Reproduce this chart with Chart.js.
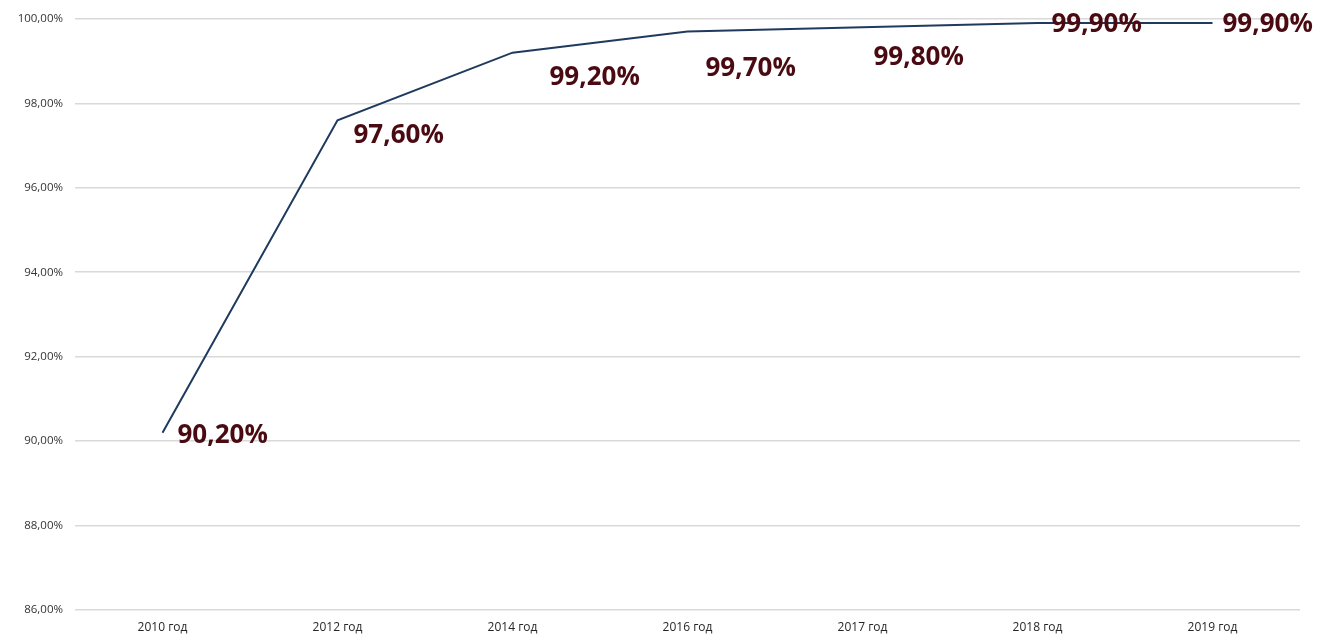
<!DOCTYPE html>
<html>
<head>
<meta charset="utf-8">
<script src="https://cdn.jsdelivr.net/npm/chart.js@4"></script>
<style>
  html, body { margin: 0; padding: 0; background: #ffffff; }
  #wrap { width: 1318px; height: 636px; position: relative; }
</style>
</head>
<body>
<div id="wrap"><canvas id="c" width="1318" height="636"></canvas></div>
<script>
// ---- data ----
const categories = ['2010 год', '2012 год', '2014 год', '2016 год', '2017 год', '2018 год', '2019 год'];
const values = [90.2, 97.6, 99.2, 99.7, 99.8, 99.9, 99.9];
const dataLabels = ['90,20%', '97,60%', '99,20%', '99,70%', '99,80%', '99,90%', '99,90%'];
const yMin = 86, yMax = 100, yStep = 2;

// label placement offsets relative to each point (style)
const labelOffsets = [[15, 3], [16, 15], [37, 25], [18, 37], [11, 30], [14, 1], [10, 1]];

const labelPlugin = {
  id: 'valueLabels',
  afterDatasetsDraw(chart) {
    const ctx = chart.ctx;
    const meta = chart.getDatasetMeta(0);
    ctx.save();
    ctx.font = 'bold 26px "Open Sans", "Noto Sans", sans-serif';
    ctx.fillStyle = '#4a0a12';
    ctx.textAlign = 'left';
    ctx.textBaseline = 'middle';
    meta.data.forEach((pt, i) => {
      const off = labelOffsets[i];
      ctx.fillText(dataLabels[i], pt.x + off[0], pt.y + off[1]);
    });
    ctx.restore();
  }
};

new Chart(document.getElementById('c'), {
  type: 'line',
  data: {
    labels: categories,
    datasets: [{
      data: values,
      borderColor: '#1f3a5f',
      borderWidth: 2,
      pointRadius: 0,
      tension: 0,
      fill: false
    }]
  },
  options: {
    responsive: false,
    animation: false,
    layout: { padding: { top: 17, right: 18, left: 0, bottom: 0 } },
    plugins: { legend: { display: false }, tooltip: { enabled: false } },
    scales: {
      x: {
        offset: true,
        grid: { display: false, drawTicks: false },
        border: { display: false },
        ticks: {
          padding: 10,
          color: '#262626',
          font: { family: '"Open Sans", "Noto Sans", sans-serif', size: 12 },
          maxRotation: 0
        },
        afterFit(scale) { scale.height = 26; }
      },
      y: {
        min: yMin,
        max: yMax,
        grid: { color: '#d9d9d9', lineWidth: 1.5, drawTicks: false },
        border: { display: false },
        ticks: {
          stepSize: yStep,
          padding: 12,
          color: '#333333',
          font: { family: '"Open Sans", "Noto Sans", sans-serif', size: 11.5 },
          callback: (v) => v.toFixed(2).replace('.', ',') + '%'
        },
        afterFit(scale) { scale.width = 75; }
      }
    }
  },
  plugins: [labelPlugin]
});
</script>
</body>
</html>
